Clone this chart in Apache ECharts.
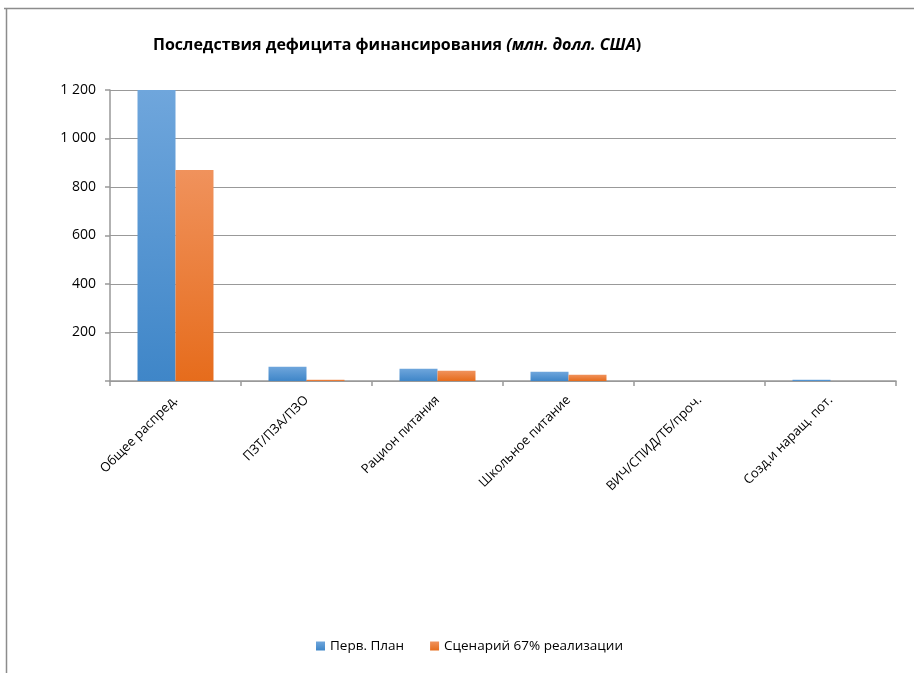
<!DOCTYPE html>
<html><head><meta charset="utf-8">
<script src="https://cdn.jsdelivr.net/npm/echarts@6/dist/echarts.min.js"></script>
<style>html,body{margin:0;padding:0;background:#fff}#c{width:914px;height:673px}</style>
</head><body><div id="c"></div>
<script>
const categories = ['Общее распред.', 'ПЗТ/ПЗА/ПЗО', 'Рацион питания', 'Школьное питание', 'ВИЧ/СПИД/ТБ/проч.', 'Созд.и наращ. пот.'];
const seriesNames = ['Перв. План', 'Сценарий 67% реализации'];
const planValues = [1200, 59, 51, 38, 0, 5];
const scenarioValues = [870, 5, 42, 26, 0, 0];
const yTicks = [0, 200, 400, 600, 800, 1000, 1200];

const chart = echarts.init(document.getElementById('c'));
const font = '"Open Sans", "Noto Sans", sans-serif';
function grad(a, b) {
  return new echarts.graphic.LinearGradient(0, 0, 0, 1, [{offset: 0, color: a}, {offset: 1, color: b}]);
}
chart.setOption({
  animation: false,
  textStyle: {fontFamily: font},
  title: {
    text: '{b|Последствия дефицита финансирования }{i|(млн. долл. США}{b|)}',
    left: 148, top: 32,
    textStyle: {
      rich: {
        b: {fontFamily: font, fontWeight: 'bold', fontSize: 16, color: '#000'},
        i: {fontFamily: font, fontWeight: 'bold', fontStyle: 'italic', fontSize: 16, color: '#000'}
      }
    }
  },
  graphic: [
    {type: 'line', shape: {x1: 4, y1: 8.5, x2: 914, y2: 8.5}, style: {stroke: '#8c8c8c', lineWidth: 1.5}},
    {type: 'line', shape: {x1: 6.5, y1: 8, x2: 6.5, y2: 673}, style: {stroke: '#8c8c8c', lineWidth: 1.5}}
  ],
  legend: {
    top: 634, left: 311,
    itemWidth: 9, itemHeight: 9, itemGap: 26,
    icon: 'rect',
    textStyle: {fontFamily: font, fontSize: 13.5, color: '#000'},
    data: seriesNames
  },
  grid: {left: 110, right: 18, top: 90, bottom: 292, containLabel: false},
  xAxis: {
    type: 'category', data: categories,
    axisLine: {lineStyle: {color: '#999', width: 1.5}},
    axisTick: {show: true, length: 5, lineStyle: {color: '#999', width: 1.5}},
    axisLabel: {rotate: 45, fontSize: 13, color: '#000', fontFamily: font, margin: 17, interval: 0}
  },
  yAxis: {
    type: 'value', min: 0, max: 1200, interval: 200,
    axisLine: {show: true, lineStyle: {color: '#999', width: 1.5}},
    axisTick: {show: true, length: 5, lineStyle: {color: '#999', width: 1.5}},
    splitLine: {lineStyle: {color: '#999', width: 1}},
    axisLabel: {
      fontSize: 14, color: '#000', fontFamily: font, margin: 14,
      formatter: v => (v === 0 ? '' : String(v).replace(/\B(?=(\d{3})+(?!\d))/g, ' '))
    }
  },
  series: [
    {name: seriesNames[0], type: 'bar', data: planValues, barGap: '0%', barCategoryGap: '42%',
     itemStyle: {color: grad('#6fa6dc', '#3f86c8')}},
    {name: seriesNames[1], type: 'bar', data: scenarioValues,
     itemStyle: {color: grad('#f0925c', '#e66c1c')}}
  ]
});
</script></body></html>
